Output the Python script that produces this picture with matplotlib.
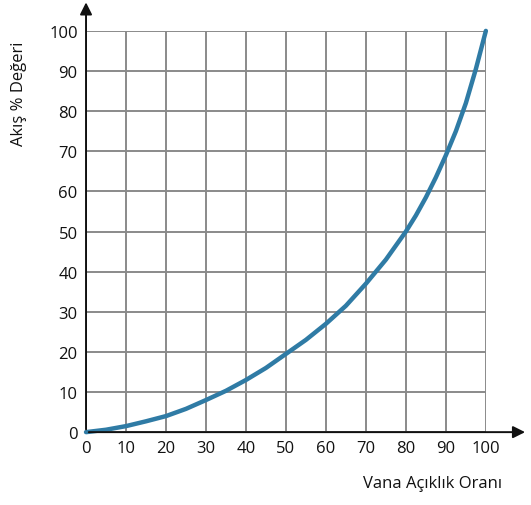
import matplotlib.pyplot as plt

# Valores (vana de igual porcentaje)
apertura = [0, 5, 10, 15, 20, 25, 30, 35, 40, 45, 50, 55, 60, 65, 70, 75, 80, 82.5, 85, 87.5,
            90, 92.5, 95, 97.5, 100]
caudal = [0, 0.6, 1.5, 2.7, 4, 5.8, 8, 10.3, 13, 16, 19.5, 23, 27, 31.5, 37, 43, 50, 54, 58.5, 63.5,
          69, 75, 82, 90.5, 100]
ticks = [0, 10, 20, 30, 40, 50, 60, 70, 80, 90, 100]

plt.rcParams["font.family"] = ["Open Sans", "DejaVu Sans"]

fig = plt.figure(figsize=(5.31, 5.06), dpi=100)
ax = fig.add_axes([0.162, 0.144, 0.753, 0.793])

ax.plot(apertura, caudal, color="#2f7ba5", linewidth=3.2, solid_capstyle="round",
        solid_joinstyle="round", zorder=3, clip_on=False)

ax.set_xlim(0, 100)
ax.set_ylim(0, 100)
ax.set_xticks(ticks)
ax.set_yticks(ticks)
ax.tick_params(labelsize=12, length=0, pad=6, colors="#111111")
ax.grid(True, color="#8a8a8a", linewidth=1.4)
ax.set_axisbelow(True)

for s in ["top", "right", "left", "bottom"]:
    ax.spines[s].set_visible(False)

# Ejes con flechas
ax.annotate("", xy=(110.5, 0), xytext=(0, 0), xycoords="data",
            arrowprops=dict(arrowstyle="-|>", color="#111111", lw=1.4, mutation_scale=18),
            annotation_clip=False)
ax.annotate("", xy=(0, 107.8), xytext=(0, 0), xycoords="data",
            arrowprops=dict(arrowstyle="-|>", color="#111111", lw=1.4, mutation_scale=18),
            annotation_clip=False)

fig.text(0.035, 0.815, "Akış % Değeri", rotation=90, ha="center", va="center", fontsize=12, color="#111111")
fig.text(0.945, 0.043, "Vana Açıklık Oranı", ha="right", va="center", fontsize=12, color="#111111")

fig.savefig("out.png", dpi=100)
